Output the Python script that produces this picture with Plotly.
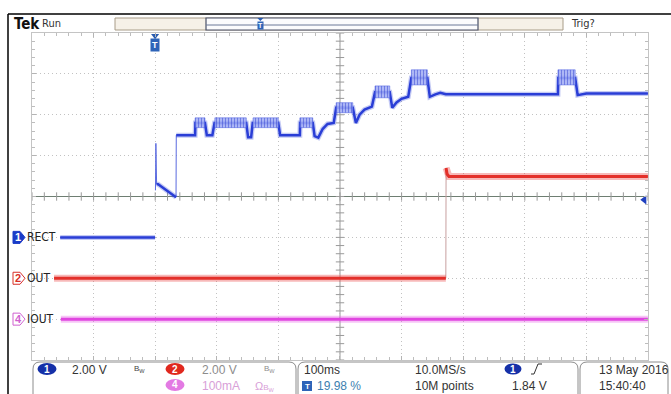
import plotly.graph_objects as go

# ---------------- scope settings / data ----------------
TIME_PER_DIV_MS = 100
TRIG_POS_PCT = 19.98
N_HDIV, N_VDIV = 10, 8

ch1_scale_v, ch1_offset_div = 2.0, -1
ch2_scale_v, ch2_offset_div = 2.0, -2
ch4_scale_ma, ch4_offset_div = 100.0, -3
trig_level_v = 1.84

# CH1 RECT (ms, V)
ch1_t = [-154, 0, None, 0.6, 1.3, 2.5, 5, 34, 34.4, 65, 65.5, 81, 84, 93, 96.5, 148, 151, 156, 158.5,
         200, 203, 235, 235.5, 256, 259, 265, 272, 280, 290, 294, 321, 326, 332, 340, 352, 357, 381,
         385, 392, 400, 411, 416, 442, 446, 455, 463, 472, 654, 654.5, 682, 686, 700, 800]
ch1_v = [0, 0, None, 2.3, 4.6, 2.6, 2.6, 1.96, 5.0, 5.0, 5.6, 5.6, 5.0, 5.0, 5.6, 5.6, 4.9, 4.9, 5.6,
         5.6, 5.0, 5.0, 5.6, 5.6, 4.95, 4.88, 5.3, 5.55, 5.6, 6.34, 6.34, 5.6, 6.0, 6.25, 6.4, 7.1, 7.1,
         6.34, 6.6, 6.78, 6.88, 7.8, 7.8, 6.88, 7.0, 7.07, 7.0, 7.0, 7.8, 7.8, 6.96, 7.04, 7.04]
# CH1 ripple bursts (envelopes)
burst_start = [65, 97, 159, 235, 294, 357, 416, 654]
burst_end = [81, 148, 200, 256, 321, 381, 442, 682]
burst_lo = [5.37, 5.37, 5.37, 5.37, 6.1, 6.83, 7.46, 7.46]
burst_hi = [5.85, 5.85, 5.85, 5.85, 6.59, 7.41, 8.2, 8.2]

# CH2 OUT (ms, V)
ch2_t = [-164, 472, 472.4, 474, 477, 800]
ch2_v = [0, 0, 5.4, 5.1, 4.98, 4.98]

# CH4 IOUT (ms, mA)
ch4_t = [-153, 800]
ch4_ma = [0, 0]

# ---------------- geometry helpers (layout decorations) ----------------
W, H = 671, 394
PL, PR, PT, PB = 32, 648, 33, 360


def XP(x):
    return (x - PL) / (PR - PL)


def YP(y):
    return (PB - y) / (PB - PT)


def ch_ypx(off):
    return PT + (N_VDIV / 2 - off) / N_VDIV * (PB - PT)


def rrect_path(x0, y0, x1, y1, r):
    a, b, c, d = XP(x0), XP(x1), YP(y0), YP(y1)
    rx = r / (PR - PL)
    ry = r / (PB - PT)
    return (f"M {a},{d} L {a},{c - ry} Q {a},{c} {a + rx},{c} L {b - rx},{c} "
            f"Q {b},{c} {b},{c - ry} L {b},{d}")


x_left = -TRIG_POS_PCT / 100 * N_HDIV * TIME_PER_DIV_MS
x_right = x_left + N_HDIV * TIME_PER_DIV_MS
x_center = (x_left + x_right) / 2


def ch_range(scale, off):
    return [(-N_VDIV / 2 - off) * scale, (N_VDIV / 2 - off) * scale]


def break_edges(t, v, thr):
    tt, vv = [], []
    for i in range(len(t)):
        if i > 0 and v[i] is not None and v[i - 1] is not None and abs(v[i] - v[i - 1]) > thr:
            tt.append(None)
            vv.append(None)
        tt.append(t[i])
        vv.append(v[i])
    return tt, vv


BLUE = '#2a3ed6'
RED = '#e3302a'
MAG = '#e046e0'
FONT = 'Liberation Sans, Arimo, Arial, sans-serif'
NARROW = 'Liberation Sans Narrow, DejaVu Sans Condensed, Arial Narrow, sans-serif'

fig = go.Figure()

# center-cross tick marks
cx_ticks = [x_left + i * TIME_PER_DIV_MS / 5 for i in range(N_HDIV * 5 + 1)]
cy_ticks = [-N_VDIV / 2 + i * 0.2 for i in range(N_VDIV * 5 + 1)]
fig.add_trace(go.Scatter(x=cx_ticks, y=[0] * len(cx_ticks), mode='markers', yaxis='y', hoverinfo='skip',
                         marker=dict(symbol='line-ns', size=6, line=dict(color='#9a9a9a', width=1))))
fig.add_trace(go.Scatter(x=[x_center] * len(cy_ticks), y=cy_ticks, mode='markers', yaxis='y', hoverinfo='skip',
                         marker=dict(symbol='line-ew', size=6, line=dict(color='#9a9a9a', width=1))))

# CH4
fig.add_trace(go.Scatter(x=ch4_t, y=ch4_ma, yaxis='y4', mode='lines', line=dict(color='rgba(228,90,228,0.35)', width=7)))
fig.add_trace(go.Scatter(x=ch4_t, y=ch4_ma, yaxis='y4', mode='lines', line=dict(color=MAG, width=3)))

# CH2
t2b, v2b = break_edges(ch2_t, ch2_v, 2.0)
fig.add_trace(go.Scatter(x=ch2_t, y=ch2_v, yaxis='y3', mode='lines', line=dict(color='#c8a0a0', width=1)))
fig.add_trace(go.Scatter(x=t2b, y=v2b, yaxis='y3', mode='lines', line=dict(color='rgba(235,80,80,0.4)', width=7)))
fig.add_trace(go.Scatter(x=t2b, y=v2b, yaxis='y3', mode='lines', line=dict(color=RED, width=3)))

# CH1
t1b, v1b = break_edges(ch1_t, ch1_v, 1.9)
fig.add_trace(go.Scatter(x=ch1_t, y=ch1_v, yaxis='y2', mode='lines', line=dict(color='#5a6ae0', width=1)))
fig.add_trace(go.Scatter(x=t1b, y=v1b, yaxis='y2', mode='lines', line=dict(color='rgba(60,80,220,0.3)', width=5)))
fig.add_trace(go.Scatter(x=t1b, y=v1b, yaxis='y2', mode='lines', line=dict(color=BLUE, width=2.5)))
for s, e, lo, hi in zip(burst_start, burst_end, burst_lo, burst_hi):
    fig.add_trace(go.Scatter(x=[s, e, e, s, s], y=[lo, lo, hi, hi, lo], yaxis='y2', mode='lines',
                             fill='toself', line=dict(color='rgba(70,90,225,0.5)', width=1),
                             fillcolor='rgba(150,165,245,0.85)',
                             fillpattern=dict(shape='|', size=3, solidity=0.35, fgcolor='#3344d0',
                                              bgcolor='rgba(160,172,245,0.85)')))

# trigger level marker (right) and trigger position marker (top)
fig.add_trace(go.Scatter(x=[x_right - 6], y=[trig_level_v], yaxis='y2', mode='markers', cliponaxis=False,
                         marker=dict(symbol='triangle-left', size=8, color='#2040c0')))
fig.add_trace(go.Scatter(x=[0], y=[N_VDIV / 2 - 0.07], yaxis='y', mode='markers', cliponaxis=False,
                         marker=dict(symbol='triangle-down', size=7, color='#2a5cb0')))

shapes = []
annotations = []

# center vertical line
shapes.append(dict(type='line', xref='x', yref='paper', x0=x_center, x1=x_center, y0=0, y1=1,
                   line=dict(color='#9a9a9a', width=1), layer='below'))
# outer black frame lines
shapes.append(dict(type='line', xref='paper', yref='paper', x0=XP(8), x1=XP(8), y0=YP(14), y1=YP(400),
                   line=dict(color='black', width=1.5)))
shapes.append(dict(type='line', xref='paper', yref='paper', x0=XP(8), x1=XP(680), y0=YP(14), y1=YP(14),
                   line=dict(color='black', width=1.5)))

# top record bar
shapes.append(dict(type='rect', xref='paper', yref='paper', x0=XP(115), x1=XP(563), y0=YP(30), y1=YP(18),
                   fillcolor='#f6f1e8', line=dict(color='#a89c88', width=1)))
shapes.append(dict(type='rect', xref='paper', yref='paper', x0=XP(206), x1=XP(478), y0=YP(30), y1=YP(18),
                   fillcolor='#fbfbfd', line=dict(color='#4a5068', width=1.2)))
shapes.append(dict(type='line', xref='paper', yref='paper', x0=XP(206), x1=XP(478), y0=YP(25), y1=YP(25),
                   line=dict(color='#6a7898', width=1)))
bar_T = 206 + TRIG_POS_PCT / 100 * (478 - 206)
shapes.append(dict(type='path', xref='paper', yref='paper',
                   path=f"M {XP(bar_T - 3)},{YP(18)} L {XP(bar_T + 3)},{YP(18)} L {XP(bar_T)},{YP(21)} Z",
                   fillcolor='#2a5cb0', line=dict(width=0)))
annotations.append(dict(xref='paper', yref='paper', x=XP(bar_T), y=YP(26), text='<b>T</b>', showarrow=False,
                        xanchor='center', yanchor='middle',
                        font=dict(family=FONT, size=7, color='white'), bgcolor='#2e64b8', borderpad=0))

annotations.append(dict(xref='paper', yref='paper', x=XP(12), y=YP(24), text='<b>Tek</b>', showarrow=False,
                        xanchor='left', yanchor='middle', font=dict(family=NARROW, size=15, color='#111')))
annotations.append(dict(xref='paper', yref='paper', x=XP(40), y=YP(24), text='Run', showarrow=False,
                        xanchor='left', yanchor='middle', font=dict(family=NARROW, size=11, color='#333')))
annotations.append(dict(xref='paper', yref='paper', x=XP(569), y=YP(24), text='Trig?', showarrow=False,
                        xanchor='left', yanchor='middle', font=dict(family=NARROW, size=11, color='#333')))

# trigger T shield at top of graticule
annotations.append(dict(xref='x', yref='paper', x=0, y=YP(45), text='<b>T</b>', showarrow=False,
                        xanchor='center', yanchor='middle',
                        font=dict(family=FONT, size=9, color='white'), bgcolor='#2e64b8', borderpad=1))

# channel markers at left
for off, num, label, col, filled in [(ch1_offset_div, '1', 'RECT', '#1a3cc8', True),
                                     (ch2_offset_div, '2', 'OUT', '#d83028', False),
                                     (ch4_offset_div, '4', 'IOUT', '#d060d0', False)]:
    y = ch_ypx(off)
    p = (f"M {XP(13)},{YP(y - 6)} L {XP(20)},{YP(y - 6)} L {XP(25)},{YP(y)} L {XP(20)},{YP(y + 6)} "
         f"L {XP(13)},{YP(y + 6)} Z")
    shapes.append(dict(type='path', xref='paper', yref='paper', path=p,
                       fillcolor=col if filled else 'white', line=dict(color=col, width=1)))
    annotations.append(dict(xref='paper', yref='paper', x=XP(18), y=YP(y), text=f'<b>{num}</b>',
                            xanchor='center', yanchor='middle',
                            showarrow=False, font=dict(family=FONT, size=11, color='white' if filled else col)))
    annotations.append(dict(xref='paper', yref='paper', x=XP(25), y=YP(y), text=label, showarrow=False,
                            xanchor='left', yanchor='middle', font=dict(family=NARROW, size=12, color='#222')))

# status boxes
for x0, x1 in [(33, 296), (298, 578), (580, 668)]:
    shapes.append(dict(type='path', xref='paper', yref='paper', path=rrect_path(x0, 362, x1, 400, 7),
                       line=dict(color='#8c8c8c', width=1)))


def ellipse(cx, cy, w, h, col, txt):
    shapes.append(dict(type='circle', xref='paper', yref='paper', x0=XP(cx - w / 2), x1=XP(cx + w / 2),
                       y0=YP(cy + h / 2), y1=YP(cy - h / 2), fillcolor=col, line=dict(width=0)))
    annotations.append(dict(xref='paper', yref='paper', x=XP(cx), y=YP(cy), text=f'<b>{txt}</b>',
                            xanchor='center', yanchor='middle',
                            showarrow=False, font=dict(family=FONT, size=10, color='white')))


def text(x, y, s, col='#333', size=12, fam=FONT):
    annotations.append(dict(xref='paper', yref='paper', x=XP(x), y=YP(y), text=s, showarrow=False,
                            xanchor='left', yanchor='middle', font=dict(family=fam, size=size, color=col)))


ellipse(47, 369, 19, 12, '#1530a8', '1')
text(70, 370, f'{ch1_scale_v:.2f} V')
text(132, 369, 'B<sub>W</sub>', '#444', 8)
ellipse(175, 369, 19, 12, '#e0281e', '2')
text(200, 370, f'{ch2_scale_v:.2f} V', '#8c8c8c')
text(262, 369, 'B<sub>W</sub>', '#8c8c8c', 8)
ellipse(175, 385, 19, 12, '#e37ae3', '4')
text(200, 386, f'{ch4_scale_ma:.0f}mA', '#d8a0d8')
text(253, 386, '<span style="font-size:11px">Ω</span>B<sub>W</sub>', '#d8a0d8', 8)

text(302, 370, f'{TIME_PER_DIV_MS}ms')
shapes.append(dict(type='rect', xref='paper', yref='paper', x0=XP(302), x1=XP(312), y0=YP(391), y1=YP(381),
                   fillcolor='#2e64b8', line=dict(width=0)))
annotations.append(dict(xref='paper', yref='paper', x=XP(307), y=YP(386), text='<b>T</b>', showarrow=False,
                        xanchor='center', yanchor='middle',
                        font=dict(family=FONT, size=8, color='white')))
text(315, 386, f'{TRIG_POS_PCT:.2f} %', '#3d7fb0')
text(413, 370, '10.0MS/s')
text(413, 386, '10M points')
ellipse(513, 369, 17, 11, '#1530a8', '1')
shapes.append(dict(type='path', xref='paper', yref='paper',
                   path=f"M {XP(531)},{YP(374)} L {XP(534)},{YP(374)} L {XP(538)},{YP(364)} L {XP(542)},{YP(364)}",
                   line=dict(color='#333', width=1)))
text(510, 386, f'{trig_level_v:.2f} V')
text(597, 370, '13 May 2016')
text(597, 386, '15:40:40')

axis_common = dict(showticklabels=False, showgrid=True, gridcolor='#c2c2c2', griddash='1px,3px', gridwidth=1,
                   ticks='inside', ticklen=4, tickcolor='#b4b4b4', showline=True, linecolor='#c4c4c4',
                   mirror='ticks', fixedrange=True)

fig.update_layout(
    width=W, height=H, margin=dict(l=PL, r=W - PR, t=PT, b=H - PB),
    paper_bgcolor='white', plot_bgcolor='white', showlegend=False,
    xaxis=dict(range=[x_left, x_right], tick0=0, dtick=TIME_PER_DIV_MS, zeroline=False,
               minor=dict(dtick=TIME_PER_DIV_MS / 5, tick0=0, ticks='inside', ticklen=3, tickcolor='#bdbdbd',
                          showgrid=False), **axis_common),
    yaxis=dict(range=[-N_VDIV / 2, N_VDIV / 2], dtick=1, zeroline=True, zerolinecolor='#6e7e72',
               zerolinewidth=1,
               minor=dict(dtick=0.2, ticks='inside', ticklen=3, tickcolor='#bdbdbd', showgrid=False),
               **axis_common),
    yaxis2=dict(range=ch_range(ch1_scale_v, ch1_offset_div), overlaying='y', visible=False, fixedrange=True),
    yaxis3=dict(range=ch_range(ch2_scale_v, ch2_offset_div), overlaying='y', visible=False, fixedrange=True),
    yaxis4=dict(range=ch_range(ch4_scale_ma, ch4_offset_div), overlaying='y', visible=False, fixedrange=True),
    shapes=shapes, annotations=annotations,
)

fig.write_html('out.html', config={'displayModeBar': False},
               post_script="document.body.style.margin='0px';document.body.style.overflow='hidden';")
